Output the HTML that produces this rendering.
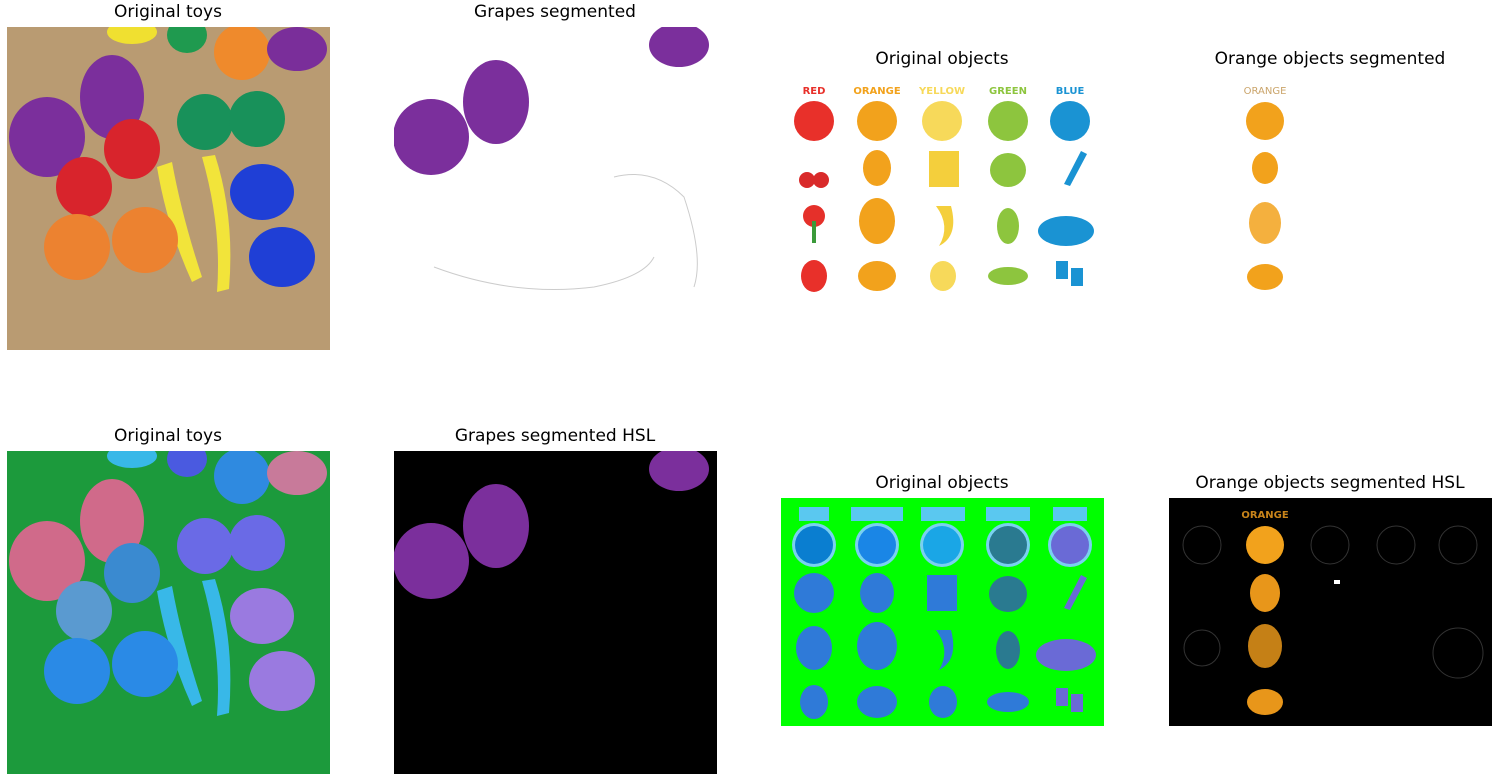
<!DOCTYPE html>
<html><head><meta charset="utf-8"><style>
body{margin:0;width:1499px;height:781px;background:#fff;position:relative;overflow:hidden;font-family:"DejaVu Sans","Liberation Sans",sans-serif}
.t{position:absolute;font-size:17px;color:#000;text-align:center;width:400px}
svg{position:absolute}
</style></head><body>
<div class="t" style="left:-32px;top:2px">Original toys</div>
<div class="t" style="left:355px;top:2px">Grapes segmented</div>
<div class="t" style="left:742px;top:49px">Original objects</div>
<div class="t" style="left:1130px;top:49px">Orange objects segmented</div>
<div class="t" style="left:-32px;top:426px">Original toys</div>
<div class="t" style="left:355px;top:426px">Grapes segmented HSL</div>
<div class="t" style="left:742px;top:473px">Original objects</div>
<div class="t" style="left:1130px;top:473px">Orange objects segmented HSL</div>

<!-- Panel 1 -->
<svg style="left:7px;top:27px" width="323" height="323">
<rect width="323" height="323" fill="#b99b72"/>
<rect y="0" width="323" height="323" fill="url(#w)" opacity=".3"/>
<ellipse cx="235" cy="25" rx="28" ry="28" fill="#ef8a2c"/>
<ellipse cx="180" cy="8" rx="20" ry="18" fill="#1f9a4f"/>
<ellipse cx="125" cy="5" rx="25" ry="12" fill="#f0e030"/>
<ellipse cx="290" cy="22" rx="30" ry="22" fill="#7a2e9a"/>
<ellipse cx="40" cy="110" rx="38" ry="40" fill="#7b2f9c"/>
<ellipse cx="105" cy="70" rx="32" ry="42" fill="#7b2f9c"/>
<ellipse cx="198" cy="95" rx="28" ry="28" fill="#18915a"/>
<ellipse cx="250" cy="92" rx="28" ry="28" fill="#18915a"/>
<ellipse cx="125" cy="122" rx="28" ry="30" fill="#d8242c"/>
<ellipse cx="77" cy="160" rx="28" ry="30" fill="#d8242c"/>
<path d="M150 140 Q160 200 185 255 L195 250 Q175 190 165 135Z" fill="#f2e43a"/>
<path d="M195 130 Q215 200 210 265 L222 262 Q228 190 208 128Z" fill="#f2e43a"/>
<ellipse cx="70" cy="220" rx="33" ry="33" fill="#ec8230"/>
<ellipse cx="138" cy="213" rx="33" ry="33" fill="#ec8230"/>
<ellipse cx="255" cy="165" rx="32" ry="28" fill="#1f3fd6"/>
<ellipse cx="275" cy="230" rx="33" ry="30" fill="#1f3fd6"/>
</svg>

<!-- Panel 2 -->
<svg style="left:394px;top:27px" width="323" height="323">
<rect width="323" height="323" fill="#fff"/>
<ellipse cx="37" cy="110" rx="38" ry="38" fill="#7b2f9c"/>
<ellipse cx="102" cy="75" rx="33" ry="42" fill="#7b2f9c"/>
<ellipse cx="285" cy="18" rx="30" ry="22" fill="#7b2f9c"/>
<path d="M40 240 Q120 270 200 260 Q250 250 260 230 M220 150 Q260 140 290 170 Q310 230 300 260" stroke="#ccc" fill="none"/>
</svg>

<!-- Panel 3 -->
<svg style="left:781px;top:76px" width="323" height="226">
<rect width="323" height="226" fill="#fff"/>
<g font-family="DejaVu Sans" font-weight="bold" font-size="10" text-anchor="middle">
<text x="33" y="18" fill="#e8302a">RED</text><text x="96" y="18" fill="#f2a21c">ORANGE</text><text x="161" y="18" fill="#f7d95a">YELLOW</text><text x="227" y="18" fill="#8dc53e">GREEN</text><text x="289" y="18" fill="#1a93d3">BLUE</text></g>
<circle cx="33" cy="45" r="20" fill="#e8302a"/><circle cx="96" cy="45" r="20" fill="#f2a21c"/><circle cx="161" cy="45" r="20" fill="#f7d95a"/><circle cx="227" cy="45" r="20" fill="#8dc53e"/><circle cx="289" cy="45" r="20" fill="#1a93d3"/>
<circle cx="26" cy="104" r="8" fill="#d92a2a"/><circle cx="40" cy="104" r="8" fill="#d92a2a"/>
<ellipse cx="96" cy="92" rx="14" ry="18" fill="#f2a21c"/>
<rect x="148" y="75" width="30" height="36" fill="#f4cf3c"/>
<ellipse cx="227" cy="94" rx="18" ry="17" fill="#8dc53e"/>
<path d="M283 108 L300 75 L306 78 L289 110Z" fill="#1a93d3"/>
<circle cx="33" cy="140" r="11" fill="#e5302a"/><rect x="31" y="145" width="4" height="22" fill="#3b9a3a"/>
<ellipse cx="96" cy="145" rx="18" ry="23" fill="#f2a21c"/>
<path d="M155 130 Q170 150 158 170 Q178 160 170 130Z" fill="#f4cf3c"/>
<ellipse cx="227" cy="150" rx="11" ry="18" fill="#8dc53e"/>
<ellipse cx="285" cy="155" rx="28" ry="15" fill="#1a93d3"/>
<ellipse cx="33" cy="200" rx="13" ry="16" fill="#e8302a"/>
<ellipse cx="96" cy="200" rx="19" ry="15" fill="#f2a21c"/>
<ellipse cx="162" cy="200" rx="13" ry="15" fill="#f7d95a"/>
<ellipse cx="227" cy="200" rx="20" ry="9" fill="#8dc53e"/>
<rect x="275" y="185" width="12" height="18" fill="#1a93d3"/><rect x="290" y="192" width="12" height="18" fill="#1a93d3"/>
</svg>

<!-- Panel 4 -->
<svg style="left:1169px;top:76px" width="323" height="226">
<rect width="323" height="226" fill="#fff"/>
<text x="96" y="18" font-family="DejaVu Sans" font-size="10" text-anchor="middle" fill="#caa46a">ORANGE</text>
<circle cx="96" cy="45" r="19" fill="#f2a21c"/>
<ellipse cx="96" cy="92" rx="13" ry="16" fill="#f2a21c"/>
<ellipse cx="96" cy="147" rx="16" ry="21" fill="#f2a21c" opacity=".85"/>
<ellipse cx="96" cy="201" rx="18" ry="13" fill="#f2a21c"/>
</svg>

<!-- Panel 5 -->
<svg style="left:7px;top:451px" width="323" height="323">
<rect width="323" height="323" fill="#1c9a3c"/>
<ellipse cx="235" cy="25" rx="28" ry="28" fill="#2f8ae0"/>
<ellipse cx="180" cy="8" rx="20" ry="18" fill="#4a5ae0"/>
<ellipse cx="125" cy="5" rx="25" ry="12" fill="#38b8e8"/>
<ellipse cx="290" cy="22" rx="30" ry="22" fill="#c87a9a"/>
<ellipse cx="40" cy="110" rx="38" ry="40" fill="#d06a8a"/>
<ellipse cx="105" cy="70" rx="32" ry="42" fill="#d06a8a"/>
<ellipse cx="198" cy="95" rx="28" ry="28" fill="#6a6ae6"/>
<ellipse cx="250" cy="92" rx="28" ry="28" fill="#6a6ae6"/>
<ellipse cx="125" cy="122" rx="28" ry="30" fill="#3a8ad0"/>
<ellipse cx="77" cy="160" rx="28" ry="30" fill="#5a9ad0"/>
<path d="M150 140 Q160 200 185 255 L195 250 Q175 190 165 135Z" fill="#38b8e8"/>
<path d="M195 130 Q215 200 210 265 L222 262 Q228 190 208 128Z" fill="#38b8e8"/>
<ellipse cx="70" cy="220" rx="33" ry="33" fill="#2a8ae6"/>
<ellipse cx="138" cy="213" rx="33" ry="33" fill="#2a8ae6"/>
<ellipse cx="255" cy="165" rx="32" ry="28" fill="#9a7ae0"/>
<ellipse cx="275" cy="230" rx="33" ry="30" fill="#9a7ae0"/>
</svg>

<!-- Panel 6 -->
<svg style="left:394px;top:451px" width="323" height="323">
<rect width="323" height="323" fill="#000"/>
<ellipse cx="37" cy="110" rx="38" ry="38" fill="#7b2f9c"/>
<ellipse cx="102" cy="75" rx="33" ry="42" fill="#7b2f9c"/>
<ellipse cx="285" cy="18" rx="30" ry="22" fill="#7b2f9c"/>
</svg>

<!-- Panel 7 -->
<svg style="left:781px;top:498px" width="323" height="228">
<rect width="323" height="228" fill="#00ff00"/>
<g fill="#2f7ad8">
<rect x="18" y="9" width="30" height="14" fill="#5ac8f0"/><rect x="70" y="9" width="52" height="14" fill="#5ac8f0"/><rect x="140" y="9" width="44" height="14" fill="#5ac8f0"/><rect x="205" y="9" width="44" height="14" fill="#5ac8f0"/><rect x="272" y="9" width="34" height="14" fill="#5ac8f0"/>
<circle cx="33" cy="47" r="22" fill="#7ad0f0"/><circle cx="96" cy="47" r="22" fill="#7ad0f0"/><circle cx="161" cy="47" r="22" fill="#7ad0f0"/><circle cx="227" cy="47" r="22" fill="#7ad0f0"/><circle cx="289" cy="47" r="22" fill="#7ad0f0"/>
<circle cx="33" cy="47" r="19" fill="#0a7ed0"/><circle cx="96" cy="47" r="19" fill="#1a86e6"/><circle cx="161" cy="47" r="19" fill="#1aa6e6"/><circle cx="227" cy="47" r="19" fill="#2a7a90"/><circle cx="289" cy="47" r="19" fill="#6a6ad6"/>
<ellipse cx="33" cy="95" rx="20" ry="20"/><ellipse cx="96" cy="95" rx="17" ry="20"/><rect x="146" y="77" width="30" height="36"/><ellipse cx="227" cy="96" rx="19" ry="18" fill="#2a7a90"/><path d="M283 110 L300 77 L306 80 L289 112Z" fill="#6a6ad6"/>
<ellipse cx="33" cy="150" rx="18" ry="22"/><ellipse cx="96" cy="148" rx="20" ry="24"/><path d="M155 132 Q170 152 158 172 Q178 162 170 132Z"/><ellipse cx="227" cy="152" rx="12" ry="19" fill="#2a7a90"/><ellipse cx="285" cy="157" rx="30" ry="16" fill="#6a6ad6"/>
<ellipse cx="33" cy="204" rx="14" ry="17"/><ellipse cx="96" cy="204" rx="20" ry="16"/><ellipse cx="162" cy="204" rx="14" ry="16"/><ellipse cx="227" cy="204" rx="21" ry="10"/><rect x="275" y="190" width="12" height="18" fill="#6a6ad6"/><rect x="290" y="196" width="12" height="18" fill="#6a6ad6"/>
</g>
</svg>

<!-- Panel 8 -->
<svg style="left:1169px;top:498px" width="323" height="228">
<rect width="323" height="228" fill="#000"/>
<text x="96" y="20" font-family="DejaVu Sans" font-size="10" font-weight="bold" text-anchor="middle" fill="#c8841a">ORANGE</text>
<g fill="none" stroke="#333" stroke-width="1"><circle cx="33" cy="47" r="19"/><circle cx="161" cy="47" r="19"/><circle cx="227" cy="47" r="19"/><circle cx="289" cy="47" r="19"/><circle cx="33" cy="150" r="18"/><circle cx="289" cy="155" r="25"/></g>
<circle cx="96" cy="47" r="19" fill="#f2a21c"/>
<ellipse cx="96" cy="95" rx="15" ry="19" fill="#e8961a"/>
<ellipse cx="96" cy="148" rx="17" ry="22" fill="#e8961a" opacity=".85"/>
<ellipse cx="96" cy="204" rx="18" ry="13" fill="#e8961a"/>
<rect x="165" y="82" width="6" height="4" fill="#fff"/>
</svg>
</body></html>
